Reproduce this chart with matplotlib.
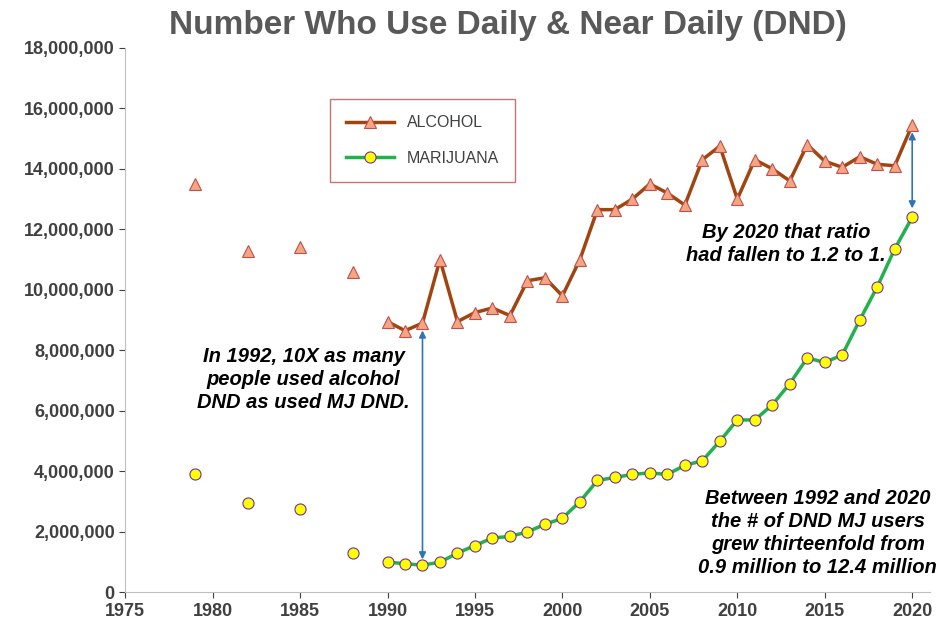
import matplotlib.pyplot as plt
import numpy as np

plt.rcParams['font.family'] = ['Liberation Sans Narrow', 'Liberation Sans', 'DejaVu Sans']

years = [1979, 1982, 1985, 1988] + list(range(1990, 2021))
alcohol = [13.5, 11.3, 11.4, 10.6,
           8.95, 8.65, 8.9, 11.0, 8.95, 9.25, 9.4, 9.15, 10.3, 10.4,
           9.8, 11.0, 12.65, 12.65, 13.0, 13.5, 13.2, 12.8, 14.3, 14.75,
           13.0, 14.3, 14.0, 13.6, 14.8, 14.25, 14.05, 14.4, 14.15, 14.1, 15.45]
marijuana = [3.9, 2.95, 2.75, 1.3,
             1.0, 0.95, 0.9, 1.0, 1.3, 1.55, 1.8, 1.85, 2.0, 2.25,
             2.45, 3.0, 3.7, 3.8, 3.9, 3.95, 3.9, 4.2, 4.35, 5.0,
             5.7, 5.7, 6.2, 6.9, 7.75, 7.6, 7.85, 9.0, 10.1, 11.35, 12.4]

yrs = np.array(years)
alc = np.array(alcohol) * 1e6
mj = np.array(marijuana) * 1e6
early = yrs < 1990

fig = plt.figure(figsize=(9.41, 6.37), dpi=100)
ax = fig.add_axes([0.133, 0.07, 0.855, 0.855])

mk_a = dict(marker='^', markersize=9, markerfacecolor='#F4A582', markeredgecolor='#C0504D', markeredgewidth=0.8)
mk_m = dict(marker='o', markersize=8, markerfacecolor='#FFFF00', markeredgecolor='#7030A0', markeredgewidth=0.8)

ax.plot(yrs[early], alc[early], linestyle='none', **mk_a)
ax.plot(yrs[~early], alc[~early], color='#A0450F', lw=2.5, label='ALCOHOL', **mk_a)
ax.plot(yrs[early], mj[early], linestyle='none', **mk_m)
ax.plot(yrs[~early], mj[~early], color='#22B14C', lw=2.5, label='MARIJUANA', **mk_m)

ax.set_xlim(1975, 2021)
ax.set_ylim(0, 18e6)
ax.set_xticks(range(1975, 2021, 5))
ax.set_yticks(np.arange(0, 18.1e6, 2e6))
ax.yaxis.set_major_formatter(plt.FuncFormatter(lambda v, p: f'{int(v):,}'))
for s in ['top', 'right']:
    ax.spines[s].set_visible(False)
for s in ['left', 'bottom']:
    ax.spines[s].set_color('#BFBFBF')
ax.tick_params(colors='#404040', labelsize=13, length=4)
for lab in ax.get_xticklabels() + ax.get_yticklabels():
    lab.set_fontweight('bold')
    lab.set_color('#404040')

fig.suptitle('Number Who Use Daily & Near Daily (DND)', fontsize=24, fontweight='bold',
             color='#595959', x=0.54, y=0.985)

leg = ax.legend(loc='upper left', bbox_to_anchor=(0.245, 0.92), fontsize=11.5,
                frameon=True, fancybox=False, borderpad=1.0, labelspacing=1.3,
                handlelength=3)
leg.get_frame().set_edgecolor('#C0504D')
for t in leg.get_texts():
    t.set_color('#404040')

arr = dict(arrowstyle='<|-|>', color='#2E75B6', lw=1.2, mutation_scale=10)
ax.annotate('', xy=(1992, 8.75e6), xytext=(1992, 1.0e6), arrowprops=arr)
ax.annotate('', xy=(2020, 15.3e6), xytext=(2020, 12.6e6), arrowprops=arr)

tk = dict(fontsize=14.5, fontweight='bold', fontstyle='italic', color='black', ha='center')
ax.text(1985.2, 6.1e6, 'In 1992, 10X as many\npeople used alcohol\nDND as used MJ DND.', linespacing=1.25, **tk)
ax.text(2012.8, 10.95e6, 'By 2020 that ratio\nhad fallen to 1.2 to 1.', linespacing=1.25, **tk)
ax.text(2014.6, 0.65e6, 'Between 1992 and 2020\nthe # of DND MJ users\ngrew thirteenfold from\n0.9 million to 12.4 million', linespacing=1.25, **tk)

fig.savefig('out.png', dpi=100)
